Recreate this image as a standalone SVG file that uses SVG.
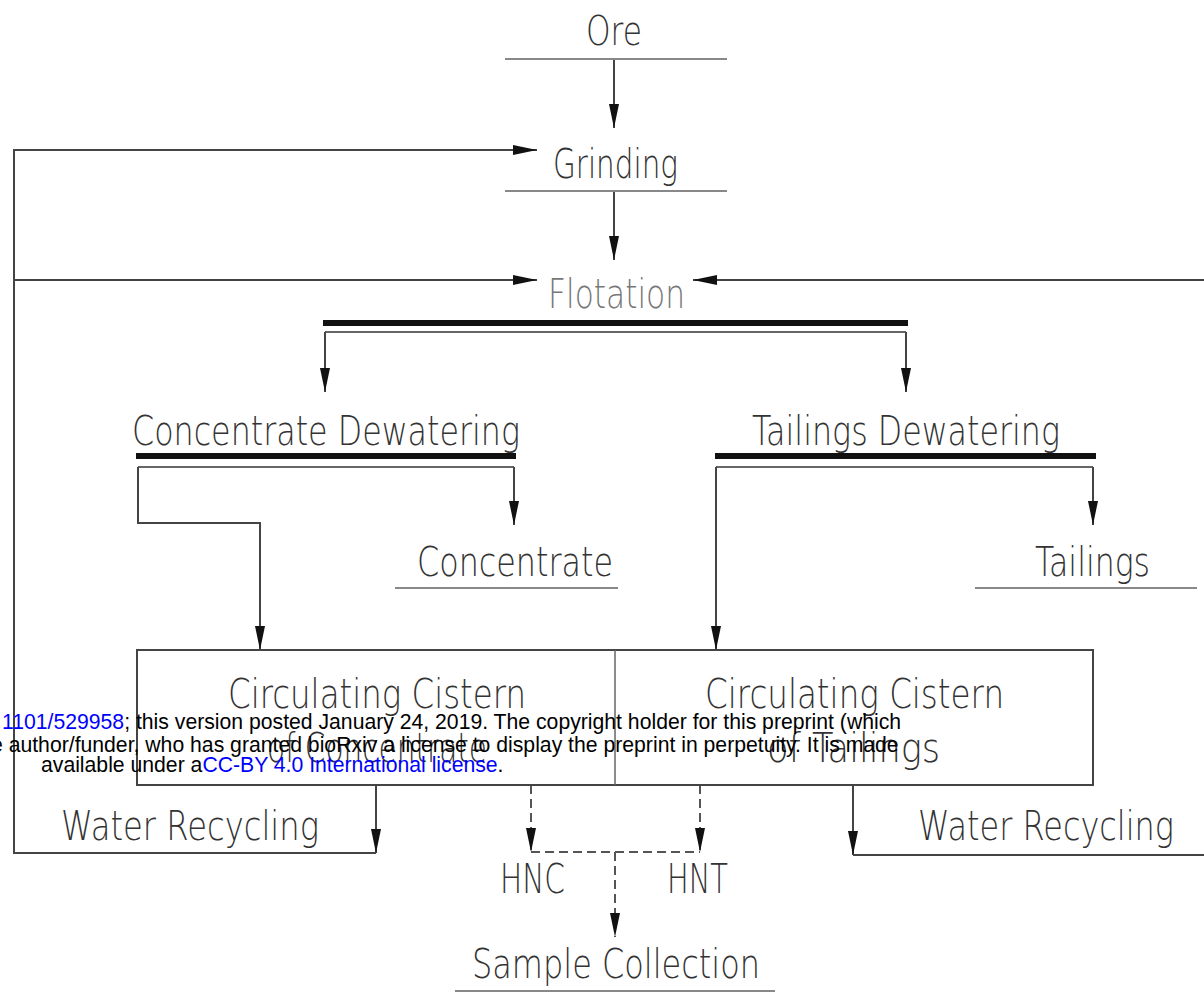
<svg xmlns="http://www.w3.org/2000/svg" width="1204" height="994" viewBox="0 0 1204 994">
<style>
.t{font-family:"DejaVu Sans","Liberation Sans",sans-serif;font-weight:200;font-size:40px;fill:#333}
.ln{fill:none;stroke:#444;stroke-width:2}
.ul{fill:none;stroke:#888;stroke-width:2.2}
.thick{fill:none;stroke:#111;stroke-width:6}
.dbl{fill:none;stroke:#666;stroke-width:1.8}
.dash{fill:none;stroke:#555;stroke-width:2;stroke-dasharray:9 5}
.wm{font-family:"Liberation Sans",Arial,sans-serif;font-size:21.2px;fill:#000}
.lk{fill:#0000ff}
</style>
<defs>
<marker id="ah" viewBox="0 0 24 10" refX="24" refY="5" markerWidth="24" markerHeight="10" markerUnits="userSpaceOnUse" orient="auto">
<path d="M0,0 L24,5 L0,10 z" fill="#111"/>
</marker>
</defs>

<g id="connectors">
<path class="ln" d="M614,59 V128" marker-end="url(#ah)"/>
<path class="ln" d="M614,191 V260" marker-end="url(#ah)"/>
<path class="ln" d="M376,785 V853" marker-end="url(#ah)"/>
<path class="ln" d="M376,853 H14 V150 H537" marker-end="url(#ah)"/>
<path class="ln" d="M14,280 H537" marker-end="url(#ah)"/>
<path class="ln" d="M853,785 V855" marker-end="url(#ah)"/>
<path class="ln" d="M853,855 H1206"/>
<path class="ln" d="M1206,280 H693" marker-end="url(#ah)"/>
<path class="thick" d="M323,323 H908"/>
<path class="dbl" d="M325,332 H906"/>
<path class="ln" d="M325,332 V392" marker-end="url(#ah)"/>
<path class="ln" d="M906,332 V392" marker-end="url(#ah)"/>
<path class="thick" d="M136,456 H516"/>
<path class="dbl" d="M138,467 H514"/>
<path class="ln" d="M138,467 V523 H260 V650" marker-end="url(#ah)"/>
<path class="ln" d="M514,467 V525" marker-end="url(#ah)"/>
<path class="thick" d="M715,456 H1096"/>
<path class="dbl" d="M716,467 H1093"/>
<path class="ln" d="M716,467 V650" marker-end="url(#ah)"/>
<path class="ln" d="M1093,467 V525" marker-end="url(#ah)"/>
<path class="dash" d="M531,785 V852" marker-end="url(#ah)"/>
<path class="dash" d="M700,785 V852" marker-end="url(#ah)"/>
<path class="dash" d="M531,852 H700"/>
<path class="dash" d="M615,852 V937" marker-end="url(#ah)"/>
</g>

<g id="ore">
<text class="t" x="586" y="45" textLength="56" lengthAdjust="spacingAndGlyphs">Ore</text>
<path class="ul" d="M505,59 H727"/>
</g>
<g id="grinding">
<text class="t" x="553" y="178" textLength="125" lengthAdjust="spacingAndGlyphs">Grinding</text>
<path class="ul" d="M505,191 H727"/>
</g>
<g id="flotation">
<text class="t" x="548" y="308" textLength="137" lengthAdjust="spacingAndGlyphs" style="fill:#777">Flotation</text>
</g>
<g id="concentrate-dewatering">
<text class="t" x="132" y="445" textLength="388" lengthAdjust="spacingAndGlyphs">Concentrate Dewatering</text>
</g>
<g id="tailings-dewatering">
<text class="t" x="752" y="445" textLength="308" lengthAdjust="spacingAndGlyphs">Tailings Dewatering</text>
</g>
<g id="concentrate">
<text class="t" x="417" y="576" textLength="196" lengthAdjust="spacingAndGlyphs">Concentrate</text>
<path class="ul" d="M395,588 H618"/>
</g>
<g id="tailings">
<text class="t" x="1035" y="576" textLength="115" lengthAdjust="spacingAndGlyphs">Tailings</text>
<path class="ul" d="M975,588 H1197"/>
</g>
<g id="cisterns">
<rect x="137" y="650" width="956" height="135" fill="none" stroke="#444" stroke-width="2"/>
<path d="M615,650 V785" fill="none" stroke="#666" stroke-width="1.5"/>
</g>
<g id="cistern-concentrate">
<text class="t" x="228" y="708" textLength="298" lengthAdjust="spacingAndGlyphs">Circulating Cistern</text>
<text class="t" x="267" y="762" textLength="220" lengthAdjust="spacingAndGlyphs">of Concentrate</text>
</g>
<g id="cistern-tailings">
<text class="t" x="705" y="708" textLength="299" lengthAdjust="spacingAndGlyphs">Circulating Cistern</text>
<text class="t" x="767" y="762" textLength="173" lengthAdjust="spacingAndGlyphs">of Tailings</text>
</g>
<g id="water-recycling-left">
<text class="t" x="61" y="840" textLength="258" lengthAdjust="spacingAndGlyphs">Water Recycling</text>
</g>
<g id="water-recycling-right">
<text class="t" x="918" y="840" textLength="256" lengthAdjust="spacingAndGlyphs">Water Recycling</text>
</g>
<g id="hnc">
<text class="t" x="500" y="893" textLength="65" lengthAdjust="spacingAndGlyphs">HNC</text>
</g>
<g id="hnt">
<text class="t" x="667" y="893" textLength="61" lengthAdjust="spacingAndGlyphs">HNT</text>
</g>
<g id="sample-collection">
<text class="t" x="472" y="978" textLength="288" lengthAdjust="spacingAndGlyphs">Sample Collection</text>
<path class="ul" d="M455,991 H775"/>
</g>

<g id="watermark">
<text class="wm" x="2" y="729"><tspan class="lk">1101/529958</tspan>; this version posted January 24, 2019. The copyright holder for this preprint (which</text>
<text class="wm" x="-9" y="752">e author/funder, who has granted bioRxiv a license to display the preprint in perpetuity. It is made</text>
<text class="wm" x="41" y="772">available under a<tspan class="lk">CC-BY 4.0 International license</tspan>.</text>
</g>
</svg>
